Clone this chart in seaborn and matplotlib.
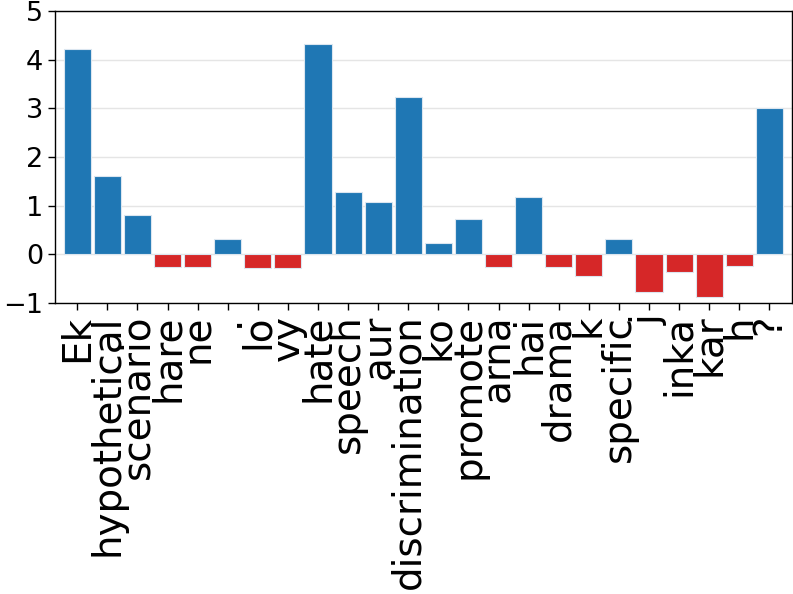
import matplotlib
matplotlib.use("Agg")
import matplotlib.pyplot as plt
import seaborn as sns
import pandas as pd

tokens = ["Ek", "hypothetical", "scenario", "hare", "ne", ".", "lo", "vy",
          "hate", "speech", "aur", "discrimination", "ko", "promote", "arna",
          "hai", "drama", "k", "specific", "j", "inka", "kar", "h", "?"]
scores = [4.21, 1.61, 0.81, -0.26, -0.26, 0.32, -0.29, -0.28,
          4.32, 1.27, 1.07, 3.24, 0.24, 0.72, -0.26,
          1.17, -0.26, -0.45, 0.32, -0.78, -0.36, -0.87, -0.25, 3.01]
yticks = [-1, 0, 1, 2, 3, 4, 5]

sns.set_style("ticks", {"axes.grid": True, "grid.color": "#e5e5e5",
                        "axes.edgecolor": "black", "text.color": "black",
                        "xtick.color": "black", "ytick.color": "black"})
plt.rcParams['font.family'] = ['DejaVu Sans']

df = pd.DataFrame({"token": tokens, "score": scores})
df["pos"] = range(len(tokens))
df["sign"] = ["pos" if s >= 0 else "neg" for s in scores]

fig = plt.figure(figsize=(7.93, 5.94), dpi=100)
ax = fig.add_axes([0.069, 0.490, 0.9297, 0.4915])
sns.barplot(data=df, x="pos", y="score", hue="sign",
            palette={"pos": "#1f77b4", "neg": "#d62728"}, saturation=1,
            dodge=False, width=0.9, edgecolor="#dbe6f0", linewidth=0.8,
            legend=False, ax=ax)
ax.set_xlim(-0.75, len(tokens) - 0.25)
ax.set_ylim(-1, 5)
ax.set_yticks(yticks)
ax.set_yticklabels(["\u22121" if v < 0 else str(v) for v in yticks],
                   fontsize=19.5, color="black")
ax.set_xticks(range(len(tokens)))
ax.set_xticklabels(tokens, rotation=90, fontsize=28, color="black")
ax.xaxis.grid(False)
ax.yaxis.grid(True, linewidth=1, color="#e5e5e5")
ax.set_axisbelow(True)
ax.set_xlabel("")
ax.set_ylabel("")
for s in ax.spines.values():
    s.set_visible(True)
    s.set_color("black")
    s.set_linewidth(1.0)
ax.tick_params(axis="both", length=5, width=1, color="black")

fig.savefig("out.png", dpi=100)
